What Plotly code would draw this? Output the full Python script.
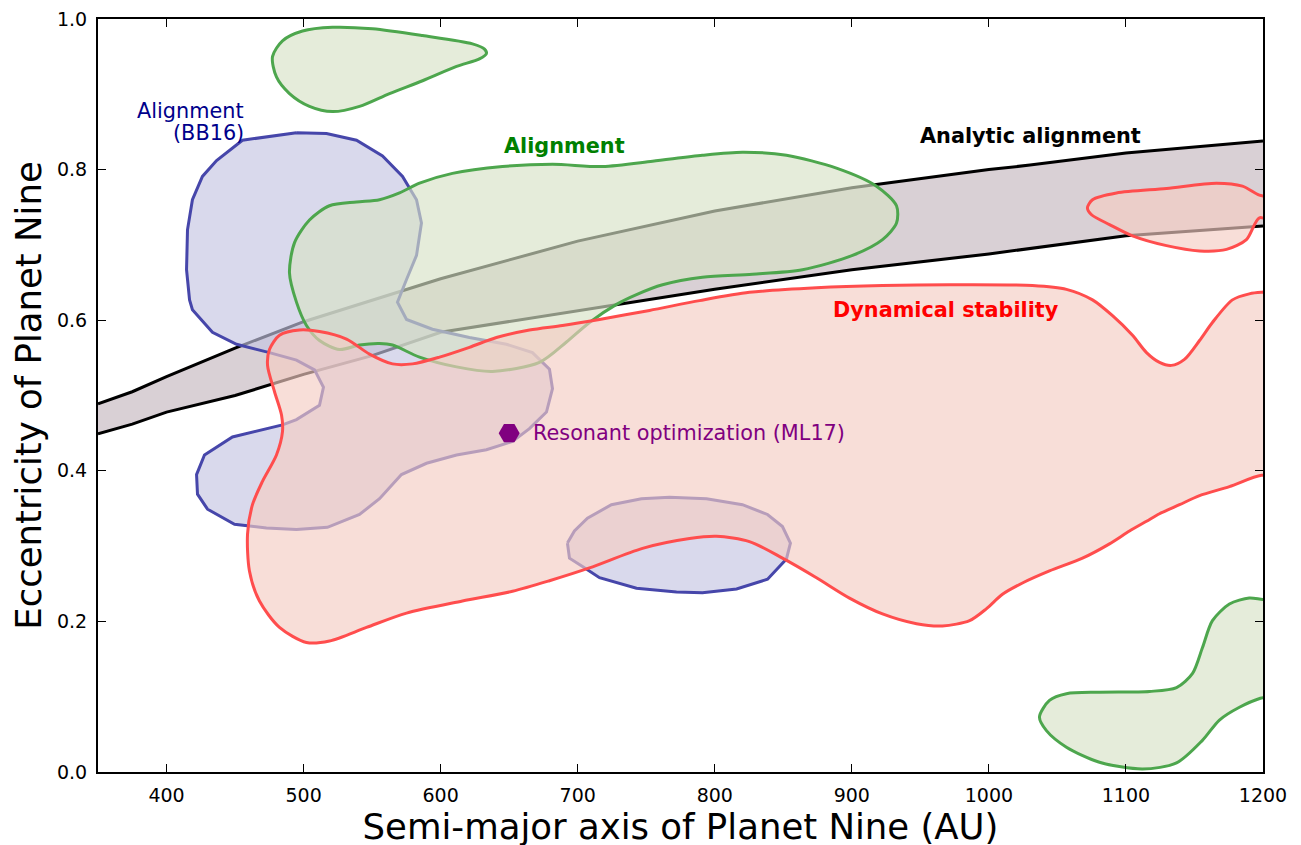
import plotly.graph_objects as go

# ---------------- data (semi-major axis in AU, eccentricity) ----------------
# Analytic alignment band
band_x = [350, 375, 400, 450, 500, 550, 600, 700, 800, 900, 1000, 1030, 1100, 1200]
band_upper = [0.489, 0.505, 0.525, 0.563, 0.598, 0.627, 0.655, 0.705, 0.745, 0.776, 0.800, 0.806, 0.822, 0.838]
band_lower_x = [350, 375, 400, 450, 500, 550, 600, 700, 800, 900, 1000, 1100, 1200]
band_lower = [0.449, 0.462, 0.478, 0.500, 0.528, 0.553, 0.584, 0.612, 0.641, 0.667, 0.688, 0.712, 0.725]

# Alignment (BB16) - main region
bb_main_x = [494.8, 516.7, 538.6, 557.6, 572.2, 582.4, 586.0, 582.4, 575.1, 568.5, 575.1, 594.0,
             621.0, 648.0, 667.0, 679.4, 681.6, 677.2, 664.8, 652.4, 633.4, 611.6, 589.7, 571.4,
             555.4, 540.8, 517.4, 494.8, 472.9, 449.6, 429.9, 422.6, 421.9, 427.7, 448.1, 484.6,
             494.8, 511.6, 514.5, 508.0, 494.8, 475.1, 451.1, 433.5, 418.9, 416.8, 414.6, 415.3,
             418.9, 426.2, 436.5, 455.4]
bb_main_y = [0.849, 0.848, 0.839, 0.818, 0.791, 0.760, 0.729, 0.686, 0.654, 0.624, 0.601, 0.588,
             0.577, 0.568, 0.557, 0.535, 0.509, 0.478, 0.456, 0.439, 0.428, 0.421, 0.410, 0.395,
             0.363, 0.342, 0.325, 0.322, 0.324, 0.329, 0.349, 0.369, 0.395, 0.421, 0.445, 0.461,
             0.468, 0.487, 0.511, 0.534, 0.547, 0.557, 0.568, 0.584, 0.614, 0.627, 0.667, 0.720,
             0.760, 0.791, 0.812, 0.839]
# Alignment (BB16) - small lobe
bb_small_x = [692.5, 694.0, 703.5, 715.9, 742.9, 772.1, 791.0, 815.9, 838.5, 852.3, 855.2, 849.4,
              838.5, 820.2, 794.0, 767.0, 746.5, 724.6, 707.1, 697.6]
bb_small_y = [0.304, 0.284, 0.273, 0.258, 0.244, 0.239, 0.238, 0.243, 0.256, 0.283, 0.304, 0.326,
              0.342, 0.355, 0.363, 0.365, 0.363, 0.355, 0.337, 0.320]

# Alignment (this work) - top teardrop
al_top_x = [477.3, 480.2, 489.7, 504.3, 521.1, 540.8, 562.7, 586.8, 611.6, 628.3, 633.4, 632.0,
            623.2, 586.8, 550.3, 521.1, 499.2, 484.6]
al_top_y = [0.950, 0.923, 0.901, 0.884, 0.877, 0.884, 0.901, 0.918, 0.937, 0.947, 0.954, 0.960,
            0.967, 0.978, 0.987, 0.989, 0.984, 0.971]
# Alignment - main region
al_main_x = [489.7, 493.4, 504.3, 518.9, 538.6, 555.4, 570.0, 584.6, 608.6, 645.1, 681.6, 718.1,
             754.6, 791.0, 820.2, 852.3, 888.8, 918.0, 932.6, 932.6, 922.4, 900.5, 864.0, 827.5,
             791.0, 761.9, 742.9, 728.3, 708.6, 691.8, 672.1, 637.8, 611.6, 584.6, 564.9, 555.4,
             540.8, 526.2, 511.6, 502.1, 494.8]
al_main_y = [0.663, 0.703, 0.733, 0.752, 0.757, 0.760, 0.769, 0.782, 0.795, 0.804, 0.807, 0.804,
             0.811, 0.819, 0.823, 0.819, 0.802, 0.778, 0.752, 0.729, 0.707, 0.686, 0.667, 0.661,
             0.657, 0.647, 0.634, 0.621, 0.597, 0.571, 0.544, 0.532, 0.538, 0.551, 0.567, 0.569,
             0.567, 0.561, 0.573, 0.593, 0.624]
# Alignment - lower right
al_low_x = [1036.9, 1042.0, 1056.6, 1080.7, 1112.1, 1136.9, 1155.8, 1168.2, 1182.8, 1198.1, 1212,
            1212, 1200.0, 1190.0, 1175.5, 1163.1, 1155.8, 1148.6, 1136.9, 1117.2, 1080.7, 1056.6,
            1044.2]
al_low_y = [0.073, 0.055, 0.033, 0.013, 0.004, 0.012, 0.042, 0.069, 0.086, 0.098, 0.103,
            0.229, 0.229, 0.231, 0.223, 0.201, 0.165, 0.131, 0.112, 0.107, 0.106, 0.104,
            0.095]

# Dynamical stability - main region
ds_main_x = [475.1, 482.4, 497.0, 511.6, 531.3, 548.1, 564.9, 579.5, 599.2, 621.0, 640.7, 664.8,
             688.9, 715.9, 752.4, 788.9, 825.3, 874.2, 922.4, 971.3, 1031.8, 1056.6, 1075.6, 1090.2,
             1104.8, 1115.0, 1124.5, 1133.2, 1142.7, 1153.7, 1163.1, 1177.7, 1190.0, 1198.8, 1212,
             1212, 1198.8, 1175.5, 1153.7, 1139.1, 1124.5, 1115.0, 1102.6, 1088.0, 1068.3, 1044.2,
             1024.5, 1009.9, 998.3, 985.9, 966.1, 947.2, 922.4, 898.3, 874.2, 849.4, 825.3, 801.3,
             781.6, 747.3, 708.6, 679.4, 652.4, 615.9, 575.1, 545.9, 518.9, 502.1, 482.4, 467.8,
             460.5, 459.1, 462.7, 470.0, 480.2, 484.6, 483.9, 478.8, 473.7]
ds_main_y = [0.561, 0.580, 0.587, 0.585, 0.575, 0.555, 0.542, 0.542, 0.551, 0.564, 0.577, 0.587,
             0.593, 0.601, 0.613, 0.626, 0.637, 0.643, 0.646, 0.647, 0.646, 0.641, 0.627, 0.606,
             0.580, 0.557, 0.544, 0.540, 0.548, 0.573, 0.597, 0.627, 0.635, 0.637, 0.637,
             0.392, 0.394, 0.379, 0.367, 0.355, 0.343, 0.333, 0.320, 0.303, 0.284, 0.267,
             0.251, 0.236, 0.217, 0.201, 0.194, 0.197, 0.210, 0.231, 0.258, 0.284, 0.306, 0.313,
             0.310, 0.297, 0.271, 0.254, 0.240, 0.227, 0.211, 0.192, 0.174, 0.172, 0.192, 0.227,
             0.267, 0.316, 0.355, 0.386, 0.421, 0.452, 0.474, 0.505, 0.540]
# Dynamical stability - upper right
ds_up_x = [1071.9, 1075.6, 1093.1, 1129.6, 1166.1, 1185.0, 1197.4, 1212, 1212, 1197.4, 1187.9,
           1173.4, 1153.7, 1129.6, 1104.8, 1088.0, 1074.9]
ds_up_y = [0.749, 0.760, 0.769, 0.775, 0.782, 0.778, 0.766, 0.760, 0.730, 0.736, 0.707,
           0.694, 0.692, 0.699, 0.712, 0.727, 0.740]

# Resonant optimization (ML17)
ml17_a = [650]
ml17_e = [0.45]

# axis ticks
x_ticks = [400, 500, 600, 700, 800, 900, 1000, 1100, 1200]
y_ticks = [0.0, 0.2, 0.4, 0.6, 0.8, 1.0]

FONT = "DejaVu Sans"

# ---------------- figure ----------------
fig = go.Figure()

# analytic band fill
fig.add_trace(go.Scatter(
    x=band_x + band_lower_x[::-1], y=band_upper + band_lower[::-1],
    fill="toself", fillcolor="#d9d0d5", mode="none", hoverinfo="skip", showlegend=False))
fig.add_trace(go.Scatter(x=band_x, y=band_upper, mode="lines",
                         line=dict(color="black", width=3), showlegend=False))
fig.add_trace(go.Scatter(x=band_lower_x, y=band_lower, mode="lines",
                         line=dict(color="black", width=3), showlegend=False))


def region(xs, ys, fillc, linec, shape="linear"):
    fig.add_trace(go.Scatter(
        x=xs + xs[:1], y=ys + ys[:1], mode="lines", fill="toself",
        fillcolor=fillc, line=dict(color=linec, width=3, shape=shape, smoothing=0.8),
        showlegend=False, hoverinfo="skip"))


BLUE_FILL, BLUE_LINE = "rgba(197,197,226,0.65)", "rgb(70,70,170)"
GREEN_FILL, GREEN_LINE = "rgba(215,226,198,0.65)", "rgb(77,166,77)"
RED_FILL, RED_LINE = "rgba(244,204,195,0.65)", "rgb(255,77,77)"

region(bb_main_x, bb_main_y, BLUE_FILL, BLUE_LINE)
region(bb_small_x, bb_small_y, BLUE_FILL, BLUE_LINE)
region(al_top_x, al_top_y, GREEN_FILL, GREEN_LINE, "spline")
region(al_main_x, al_main_y, GREEN_FILL, GREEN_LINE, "spline")
region(al_low_x, al_low_y, GREEN_FILL, GREEN_LINE, "spline")
region(ds_main_x, ds_main_y, RED_FILL, RED_LINE, "spline")
region(ds_up_x, ds_up_y, RED_FILL, RED_LINE, "spline")

fig.add_trace(go.Scatter(x=ml17_a, y=ml17_e, mode="markers",
                         marker=dict(symbol="hexagon2", size=21, color="purple",
                                     line=dict(width=0)),
                         showlegend=False))

ann_font = 20.8
fig.add_annotation(x=458, y=0.878, text="Alignment", showarrow=False,
                   xanchor="right", yanchor="middle",
                   font=dict(family=FONT, size=ann_font, color="darkblue"))
fig.add_annotation(x=458, y=0.848, text="(BB16)", showarrow=False,
                   xanchor="right", yanchor="middle",
                   font=dict(family=FONT, size=ann_font, color="darkblue"))
fig.add_annotation(x=690, y=0.832, text="<b>Alignment</b>", showarrow=False,
                   font=dict(family=FONT, size=ann_font, color="green"))
fig.add_annotation(x=1030, y=0.844, text="<b>Analytic alignment</b>", showarrow=False,
                   font=dict(family=FONT, size=ann_font, color="black"))
fig.add_annotation(x=969, y=0.614, text="<b>Dynamical stability</b>", showarrow=False,
                   font=dict(family=FONT, size=ann_font, color="red"))
fig.add_annotation(x=666, y=0.45, text="Resonant optimization (ML17)", showarrow=False,
                   xanchor="left", yanchor="middle",
                   font=dict(family=FONT, size=ann_font, color="purple"))

axis_common = dict(showgrid=False, zeroline=False, showline=True, linecolor="black",
                   linewidth=2, mirror="ticks", ticks="inside", ticklen=8, tickwidth=1,
                   tickcolor="black", automargin=False, ticklabeloverflow="allow",
                   ticklabelstandoff=5,
                   tickfont=dict(family=FONT, size=19, color="black"))

fig.update_xaxes(range=[350, 1200], tickvals=x_ticks,
                 ticktext=[str(v) for v in x_ticks],
                 title=dict(text="Semi-major axis of Planet Nine (AU)",
                            font=dict(family=FONT, size=35.5, color="black"), standoff=8),
                 **axis_common)
fig.update_yaxes(range=[0, 1], tickvals=y_ticks,
                 ticktext=[f"{v:.1f}" for v in y_ticks],
                 title=dict(text="Eccentricity of Planet Nine",
                            font=dict(family=FONT, size=35.5, color="black"), standoff=5),
                 **axis_common)

fig.update_layout(width=1301, height=845, plot_bgcolor="white", paper_bgcolor="white",
                  margin=dict(l=90, r=46, t=11, b=81), showlegend=False,
                  font=dict(family=FONT))

fig.write_html("out.html")
